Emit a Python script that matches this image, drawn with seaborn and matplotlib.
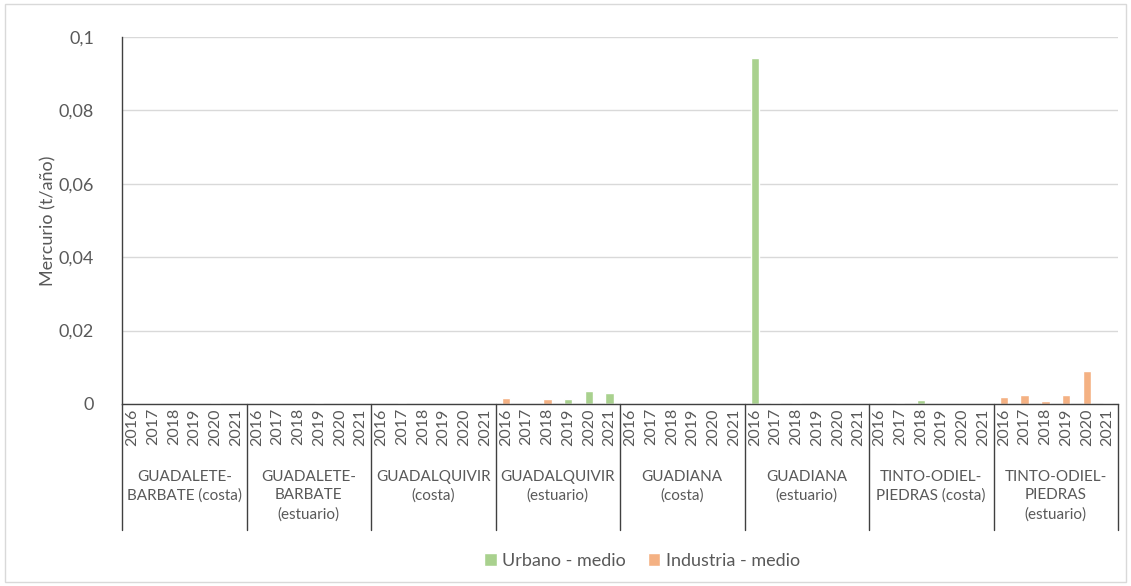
import numpy as np
import pandas as pd
import matplotlib
matplotlib.use("Agg")
import matplotlib.pyplot as plt
import matplotlib.transforms as mtransforms
from matplotlib.patches import Rectangle
import seaborn as sns

groups = ["GUADALETE-\nBARBATE (costa)", "GUADALETE-\nBARBATE\n(estuario)",
          "GUADALQUIVIR\n(costa)", "GUADALQUIVIR\n(estuario)",
          "GUADIANA\n(costa)", "GUADIANA\n(estuario)",
          "TINTO-ODIEL-\nPIEDRAS (costa)", "TINTO-ODIEL-\nPIEDRAS\n(estuario)"]
years = ["2016", "2017", "2018", "2019", "2020", "2021"]

urbano = [0, 0, 0, 0, 0.0003, 0,
          0, 0, 0, 0.0001, 0, 0,
          0, 0.0002, 0, 0, 0, 0,
          0, 0, 0, 0.0014, 0.0036, 0.0029,
          0, 0, 0, 0, 0, 0,
          0.0943, 0.0002, 0.0002, 0, 0, 0,
          0, 0.0002, 0.0011, 0, 0, 0,
          0, 0, 0, 0, 0, 0]
industria = [0, 0, 0, 0, 0.0004, 0,
             0, 0, 0, 0.0002, 0, 0,
             0, 0.0002, 0, 0, 0, 0,
             0.0016, 0, 0.0014, 0, 0, 0,
             0, 0, 0, 0, 0, 0,
             0, 0.0003, 0.0003, 0, 0, 0,
             0, 0.0001, 0, 0, 0, 0,
             0.0018, 0.0025, 0.0009, 0.0025, 0.0089, 0.0004]
series_names = ["Urbano - medio", "Industria - medio"]
colors = ["#A9D18E", "#F4B183"]
yticks = [0, 0.02, 0.04, 0.06, 0.08, 0.1]
ytick_labels = ["0", "0,02", "0,04", "0,06", "0,08", "0,1"]

cats = [f"{g}|{y}" for g in groups for y in years]
df = pd.DataFrame({
    "cat": cats * 2,
    "value": urbano + industria,
    "serie": [series_names[0]] * len(cats) + [series_names[1]] * len(cats),
})

sns.set_style("white")
plt.rcParams["font.family"] = ["Lato", "DejaVu Sans"]
txt = "#595959"

fig = plt.figure(figsize=(11.31, 5.86), dpi=100)
ax = fig.add_axes([122/1131, 1-404/586, (1118-122)/1131, (404-37)/586])

sns.barplot(data=df, x="cat", y="value", hue="serie", order=cats,
            hue_order=series_names, palette=colors, dodge=False,
            width=0.42, ax=ax, saturation=1, errorbar=None)

ax.set_xlim(-0.5, len(cats) - 0.5)
ax.set_ylim(0, 0.1)
ax.set_yticks(yticks)
ax.set_yticklabels(ytick_labels, color=txt, fontsize=13)
ax.yaxis.grid(True, color="#D9D9D9", linewidth=1)
ax.set_axisbelow(True)
ax.tick_params(axis="y", length=0, pad=20)
ax.set_ylabel("Mercurio (t/año)", color=txt, fontsize=13, labelpad=2)
ax.set_xlabel("")

ax.set_xticks(range(len(cats)))
ax.set_xticklabels(years * len(groups), rotation=90, color=txt, fontsize=11.5)
ax.tick_params(axis="x", length=0, pad=3)

for s in ["top", "right"]:
    ax.spines[s].set_visible(False)
ax.spines["left"].set_color("#404040")
ax.spines["bottom"].set_color("#404040")
ax.spines["left"].set_linewidth(1)
ax.spines["bottom"].set_linewidth(1)

trans = mtransforms.blended_transform_factory(ax.transData, ax.transAxes)
ybot = -(530 - 404) / 367
for k in range(len(groups) + 1):
    xb = -0.5 + 6 * k
    ax.plot([xb, xb], [0, ybot], transform=trans, color="#404040",
            linewidth=1, clip_on=False)
for k, g in enumerate(groups):
    ax.text(6 * k + 2.5, -(470 - 404) / 367, g, transform=trans, ha="center",
            va="top", fontsize=11, color=txt, linespacing=1.4)

leg = ax.get_legend()
if leg is not None:
    leg.remove()
handles = [Rectangle((0, 0), 1, 1, facecolor=c) for c in colors]
fig.legend(handles, series_names, loc="center", bbox_to_anchor=(642/1131, 1-561/586),
           ncol=2, frameon=False, fontsize=13, labelcolor=txt, handlelength=0.7,
           handleheight=0.7, handletextpad=0.3, columnspacing=1.2)

fig.patches.append(Rectangle((5/1131, 4/586), 1121/1131, 578/586, transform=fig.transFigure,
                             fill=False, edgecolor="#D9D9D9", linewidth=1))

fig.savefig("out.png", dpi=100)
